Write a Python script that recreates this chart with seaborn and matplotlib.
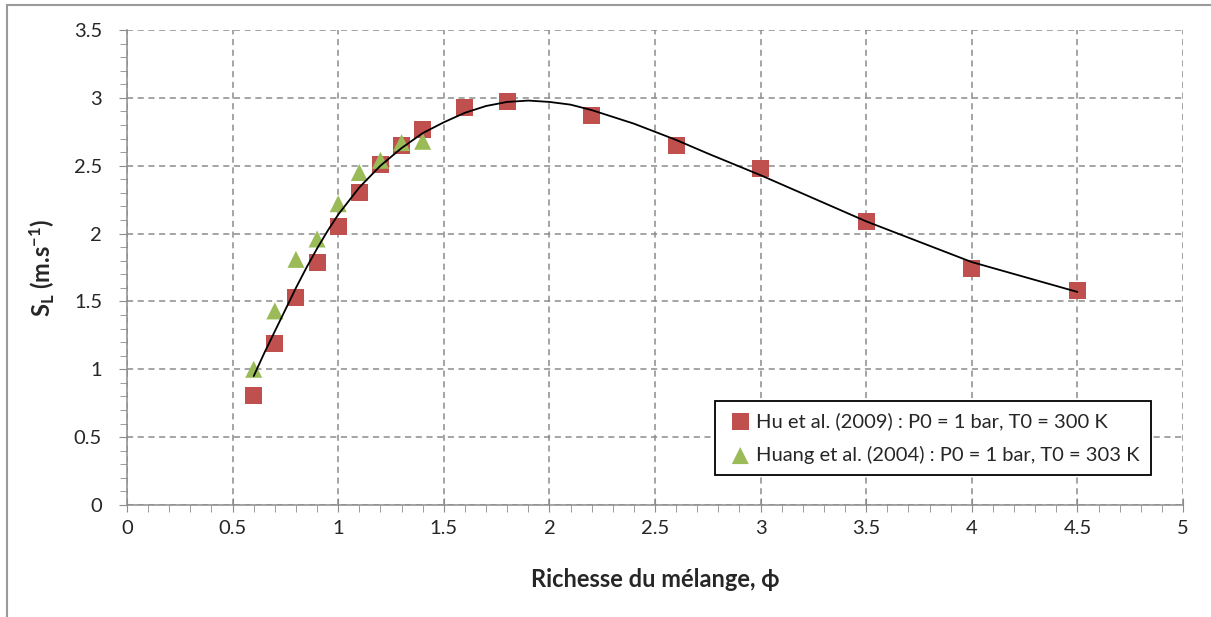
import numpy as np
import pandas as pd
import seaborn as sns
import matplotlib.pyplot as plt
from matplotlib.ticker import MultipleLocator
from matplotlib.patches import Rectangle

# Hu et al. (2009) - squares
hu_phi = [0.6, 0.7, 0.8, 0.9, 1.0, 1.1, 1.2, 1.3, 1.4, 1.6, 1.8, 2.2, 2.6, 3.0, 3.5, 4.0, 4.5]
hu_sl = [0.81, 1.19, 1.53, 1.79, 2.05, 2.30, 2.51, 2.65, 2.77, 2.93, 2.97, 2.87, 2.65, 2.48, 2.09, 1.74, 1.58]

# Huang et al. (2004) - triangles
huang_phi = [0.6, 0.7, 0.8, 0.9, 1.0, 1.1, 1.2, 1.3, 1.4]
huang_sl = [1.00, 1.43, 1.81, 1.96, 2.22, 2.45, 2.54, 2.67, 2.68]

# fitted curve
fit_phi = [0.6, 0.65, 0.7, 0.75, 0.8, 0.85, 0.9, 0.95, 1.0, 1.1, 1.2, 1.3, 1.4, 1.5, 1.6, 1.7,
           1.8, 1.9, 2.0, 2.1, 2.2, 2.3, 2.4, 2.5, 2.6, 2.75, 3.0, 3.25, 3.5, 3.75, 4.0, 4.25, 4.5]
fit_sl = [0.95, 1.12, 1.28, 1.44, 1.60, 1.75, 1.89, 2.02, 2.14, 2.34, 2.50, 2.63, 2.74, 2.82, 2.89, 2.94,
          2.97, 2.98, 2.97, 2.95, 2.91, 2.86, 2.81, 2.75, 2.69, 2.59, 2.43, 2.26, 2.09, 1.94, 1.79, 1.68, 1.57]

hu_label = "Hu et al. (2009) : P0 = 1 bar, T0 = 300 K"
huang_label = "Huang et al. (2004) : P0 = 1 bar, T0 = 303 K"

sns.set_style("white")
plt.rcParams['font.family'] = ['Lato', 'DejaVu Sans']
plt.rcParams['mathtext.fontset'] = 'custom'
plt.rcParams['mathtext.rm'] = 'Lato:bold'
plt.rcParams['mathtext.it'] = 'Lato:bold'
plt.rcParams['mathtext.bf'] = 'Lato:bold'

fig = plt.figure(figsize=(12.11, 6.17), dpi=100)
ax = fig.add_axes([127/1211, 1 - 505/617, (1183 - 127)/1211, (505 - 30)/617])

# outer chart border
fig.patches.append(Rectangle((7/1211, -0.05), 1.1, 1 - 5/617 + 0.05, transform=fig.transFigure,
                             fill=False, edgecolor='#9a9a9a', linewidth=1.5, zorder=-1))

sns.lineplot(x=fit_phi, y=fit_sl, ax=ax, color='black', linewidth=1.3, sort=False,
             estimator=None, zorder=3)
sns.scatterplot(x=hu_phi, y=hu_sl, ax=ax, marker='s', s=150, color='#C0504D',
                edgecolor='none', label=hu_label, zorder=2)
sns.scatterplot(x=huang_phi, y=huang_sl, ax=ax, marker='^', s=150, color='#9BBB59',
                edgecolor='none', label=huang_label, zorder=2)

ax.set_xlim(0, 5)
ax.set_ylim(0, 3.5)
ax.xaxis.set_major_locator(MultipleLocator(0.5))
ax.yaxis.set_major_locator(MultipleLocator(0.5))
ax.xaxis.set_minor_locator(MultipleLocator(0.1))
ax.yaxis.set_minor_locator(MultipleLocator(0.1))
ax.set_xticklabels([f"{v:g}" for v in ax.get_xticks()])
ax.set_yticklabels([f"{v:g}" for v in ax.get_yticks()])

ax.grid(True, which='major', linestyle=(0, (4, 3)), color='#8c8c8c', linewidth=1.1)
for side in ['top', 'right']:
    ax.spines[side].set_visible(False)
for side in ['left', 'bottom']:
    ax.spines[side].set_color('#8c8c8c')
    ax.spines[side].set_linewidth(1.1)

ax.tick_params(axis='x', which='major', direction='inout', length=10, color='#8c8c8c',
               labelsize=14.5, pad=6, bottom=True)
ax.tick_params(axis='x', which='minor', direction='out', length=5, color='#8c8c8c', bottom=True)
ax.tick_params(axis='y', which='major', direction='out', length=6, color='#8c8c8c',
               labelsize=14.5, pad=12, left=True)
ax.tick_params(axis='y', which='minor', direction='out', length=5, color='#8c8c8c', left=True)

ax.set_xlabel("Richesse du mélange, ϕ", fontsize=17, fontweight='bold', labelpad=22)
ax.set_ylabel(r"S$_\mathrm{L}$ (m.s$^\mathrm{-1}$)", fontsize=17, fontweight='bold', labelpad=12)

leg = ax.legend(loc='lower right', bbox_to_anchor=(1034/1056, 20/475), fontsize=14.5,
                frameon=True, fancybox=False, edgecolor='black', framealpha=1,
                handletextpad=0.1, borderpad=0.55, labelspacing=0.8, handlelength=1.4)
leg.get_frame().set_linewidth(1.3)

fig.savefig("out.png", dpi=100)
